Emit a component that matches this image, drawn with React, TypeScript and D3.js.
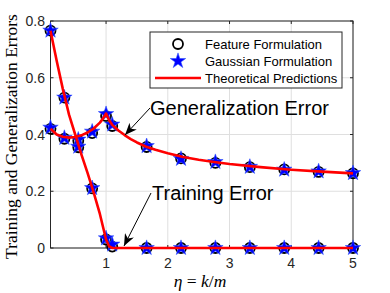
import React from "react";
import * as d3 from "d3";

// sample points (eta = k/m)
const etaSamples = [0.1, 0.325, 0.55, 0.775, 1.0, 1.1, 1.657, 2.214, 2.771, 3.329, 3.886, 4.443, 5.0];
const featureGen = [0.42, 0.385, 0.378, 0.405, 0.465, 0.43, 0.356, 0.316, 0.3, 0.285, 0.277, 0.268, 0.263];
const featureTrain = [0.766, 0.53, 0.355, 0.21, 0.03, 0.005, 0, 0, 0, 0, 0, 0, 0];
const gaussianGen = [0.424, 0.388, 0.382, 0.41, 0.472, 0.435, 0.359, 0.314, 0.303, 0.286, 0.276, 0.27, 0.264];
const gaussianTrain = [0.766, 0.53, 0.357, 0.211, 0.034, 0.012, 0, 0, 0, 0, 0, 0, 0];

// theoretical curves
const theoryEta = [0.1, 0.2, 0.3, 0.4, 0.5, 0.6, 0.7, 0.8, 0.9, 0.95, 1.0, 1.05, 1.1, 1.2, 1.3, 1.4, 1.5, 1.65, 1.8, 2.0, 2.25, 2.5, 2.75, 3.0, 3.5, 4.0, 4.5, 5.0];
const theoryGen = [0.42, 0.4, 0.392, 0.389, 0.391, 0.397, 0.407, 0.421, 0.442, 0.456, 0.474, 0.45, 0.434, 0.414, 0.398, 0.384, 0.372, 0.357, 0.346, 0.334, 0.321, 0.311, 0.303, 0.296, 0.285, 0.276, 0.269, 0.263];
const theoryTrain = [0.766, 0.66, 0.56, 0.47, 0.4, 0.33, 0.265, 0.195, 0.12, 0.075, 0.03, 0.006, 0, 0, 0, 0, 0, 0, 0, 0, 0, 0, 0, 0, 0, 0, 0, 0];

const xTicks = [1, 2, 3, 4, 5];
const yTicks = [0, 0.2, 0.4, 0.6, 0.8];
const legendLabels = ["Feature Formulation", "Gaussian Formulation", "Theoretical Predictions"];

const W = 390, H = 293;
const left = 50.5, right = 353, top = 21, bottom = 248;
const sans = "'Liberation Sans', Arial, Helvetica, sans-serif";
const serif = "'Liberation Serif', 'Times New Roman', serif";

export default function App() {
  const x = d3.scaleLinear().domain([0.1, 5]).range([left, right]);
  const y = d3.scaleLinear().domain([0, 0.8]).range([bottom, top]);

  const line = d3.line<number>().x((_, i) => x(theoryEta[i])).y(d => y(d));
  const star = d3.symbol().type(d3.symbolStar).size(74)();
  const axisColor = "#262626";

  const circles = (vals: number[], key: string) =>
    vals.map((v, i) => (
      <circle key={key + i} cx={x(etaSamples[i])} cy={y(v)} r={5} fill="none" stroke="#000" strokeWidth={1.8} />
    ));
  const stars = (vals: number[], key: string) =>
    vals.map((v, i) => (
      <path key={key + i} d={star!} transform={`translate(${x(etaSamples[i])},${y(v)})`} fill="#0000ff" stroke="#3355ff" strokeWidth={0.6} />
    ));

  const legX = 150, legY = 32, legW = 192, legH = 56;
  const rowY = [44, 61, 78];

  return (
    <div style={{ position: "absolute", left: 0, top: 0 }}>
      <svg width={W} height={H} style={{ display: "block", background: "#fff" }}>
        <defs>
          <marker id="ah" viewBox="0 0 12 10" refX={12} refY={5} markerWidth={12} markerHeight={10} orient="auto" markerUnits="userSpaceOnUse">
            <path d="M0,0 L12,5 L0,10 L3.5,5 Z" fill="#000" />
          </marker>
        </defs>
        {/* grid */}
        {xTicks.map(t => (
          <line key={"gx" + t} x1={x(t)} x2={x(t)} y1={top} y2={bottom} stroke="#dfdfdf" strokeWidth={1} />
        ))}
        {yTicks.map(t => (
          <line key={"gy" + t} x1={left} x2={right} y1={y(t)} y2={y(t)} stroke="#dfdfdf" strokeWidth={1} />
        ))}
        {/* box */}
        <rect x={left} y={top} width={right - left} height={bottom - top} fill="none" stroke={axisColor} strokeWidth={1} />
        {/* ticks inward */}
        {xTicks.map(t => (
          <g key={"tx" + t}>
            <line x1={x(t)} x2={x(t)} y1={bottom} y2={bottom - 3} stroke={axisColor} />
            <line x1={x(t)} x2={x(t)} y1={top} y2={top + 3} stroke={axisColor} />
            <text x={x(t)} y={268} fontSize={14} fontFamily={sans} textAnchor="middle" fill="#262626">{t}</text>
          </g>
        ))}
        {yTicks.map(t => (
          <g key={"ty" + t}>
            <line x1={left} x2={left + 3} y1={y(t)} y2={y(t)} stroke={axisColor} />
            <line x1={right} x2={right - 3} y1={y(t)} y2={y(t)} stroke={axisColor} />
            <text x={45} y={y(t) + 5} fontSize={14} fontFamily={sans} textAnchor="end" fill="#262626">{t === 0 ? "0" : t.toFixed(1)}</text>
          </g>
        ))}
        {/* data */}
        {circles(featureGen, "fg")}
        {circles(featureTrain, "ft")}
        {stars(gaussianGen, "gg")}
        {stars(gaussianTrain, "gt")}
        <path d={line(theoryGen)!} fill="none" stroke="#ff0000" strokeWidth={2.6} strokeLinejoin="round" />
        <path d={line(theoryTrain)!} fill="none" stroke="#ff0000" strokeWidth={2.6} strokeLinejoin="round" />
        {/* annotations */}
        <line x1={150} x2={125} y1={108} y2={135} stroke="#000" strokeWidth={1} markerEnd="url(#ah)" />
        <text x={150} y={115} fontSize={20} fontFamily={sans} fill="#000">Generalization Error</text>
        <line x1={151} x2={124} y1={193} y2={246} stroke="#000" strokeWidth={1} markerEnd="url(#ah)" />
        <text x={152} y={200} fontSize={20} fontFamily={sans} fill="#000">Training Error</text>
        {/* legend */}
        <rect x={legX} y={legY} width={legW} height={legH} fill="#fff" stroke="#262626" strokeWidth={1} />
        <circle cx={178} cy={rowY[0]} r={5} fill="none" stroke="#000" strokeWidth={1.8} />
        <path d={star!} transform={`translate(178,${rowY[1]})`} fill="#0000ff" stroke="#3355ff" strokeWidth={0.6} />
        <line x1={155} x2={201} y1={rowY[2]} y2={rowY[2]} stroke="#ff0000" strokeWidth={2.6} />
        {legendLabels.map((l, i) => (
          <text key={l} x={205} y={rowY[i] + 4.5} fontSize={13} fontFamily={sans} fill="#000">{l}</text>
        ))}
        {/* axis labels */}
        <text transform={`translate(17,${(top + bottom) / 2 + 2}) rotate(-90)`} textAnchor="middle" fontSize={17.5} fontFamily={serif} fill="#000">
          Training and Generalization Errors
        </text>
        <text x={200} y={287} textAnchor="middle" fontSize={17.5} fontFamily={serif} fill="#000">
          <tspan fontStyle="italic">η</tspan>
          <tspan> = </tspan>
          <tspan fontStyle="italic">k</tspan>
          <tspan>/</tspan>
          <tspan fontStyle="italic">m</tspan>
        </text>
      </svg>
    </div>
  );
}
